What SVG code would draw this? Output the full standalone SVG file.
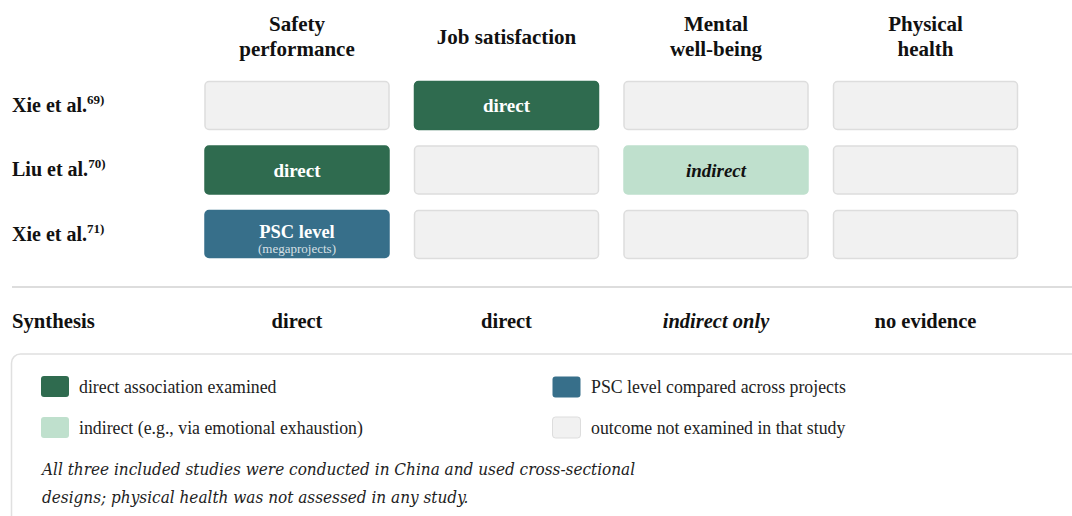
<svg xmlns="http://www.w3.org/2000/svg" width="1072" height="516" viewBox="0 0 1072 516">
<style>
text{font-family:"Liberation Serif","Times New Roman",serif;fill:#111}
.hd{font-size:21px;font-weight:bold;text-anchor:middle}
.rl{font-size:20px;font-weight:bold}
.sup{font-size:13px;font-weight:bold}
.cell{stroke-width:1.5}
.none{fill:#f1f1f1;stroke:#dddddd}
.dir{fill:#2f6b4f;stroke:#2f6b4f}
.ind{fill:#bfe0cd;stroke:#bfe0cd}
.psc{fill:#376f8a;stroke:#376f8a}
.ct{font-size:19px;font-weight:bold;text-anchor:middle;fill:#fff}
.ci{font-size:19px;font-weight:bold;font-style:italic;text-anchor:middle;fill:#111}
.cs{font-size:13px;text-anchor:middle;fill:#fff;fill-opacity:0.8}
.sy{font-size:20.5px;font-weight:bold;text-anchor:middle}
.lg{font-size:17.8px;fill:#222}
.note{font-family:"DejaVu Serif Condensed","DejaVu Serif",serif;font-stretch:condensed;font-style:italic;font-size:17px;fill:#222}
</style>
<g id="headers">
<text class="hd" x="297" y="31">Safety</text>
<text class="hd" x="297" y="56">performance</text>
<text class="hd" x="506.5" y="44">Job satisfaction</text>
<text class="hd" x="716" y="31">Mental</text>
<text class="hd" x="716" y="56">well-being</text>
<text class="hd" x="925.5" y="31">Physical</text>
<text class="hd" x="925.5" y="56">health</text>
</g>
<g id="row-labels">
<text class="rl" x="12" y="112">Xie et al.<tspan class="sup" dy="-8">69)</tspan></text>
<text class="rl" x="12" y="176">Liu et al.<tspan class="sup" dy="-8">70)</tspan></text>
<text class="rl" x="12" y="241">Xie et al.<tspan class="sup" dy="-8">71)</tspan></text>
</g>
<g id="row1">
<rect class="cell none" x="205" y="81.5" width="184" height="48" rx="4"/>
<rect class="cell dir" x="414.5" y="81.5" width="184" height="48" rx="4"/>
<text class="ct" x="506.5" y="112">direct</text>
<rect class="cell none" x="624" y="81.5" width="184" height="48" rx="4"/>
<rect class="cell none" x="833.5" y="81.5" width="184" height="48" rx="4"/>
</g>
<g id="row2">
<rect class="cell dir" x="205" y="146" width="184" height="48" rx="4"/>
<text class="ct" x="297" y="176.5">direct</text>
<rect class="cell none" x="414.5" y="146" width="184" height="48" rx="4"/>
<rect class="cell ind" x="624" y="146" width="184" height="48" rx="4"/>
<text class="ci" x="716" y="176.5">indirect</text>
<rect class="cell none" x="833.5" y="146" width="184" height="48" rx="4"/>
</g>
<g id="row3">
<rect class="cell psc" x="205" y="210.5" width="184" height="47" rx="4"/>
<text class="ct" x="297" y="237.5" style="font-size:18.5px">PSC level</text>
<text class="cs" x="297" y="253">(megaprojects)</text>
<rect class="cell none" x="414.5" y="210.5" width="184" height="48" rx="4"/>
<rect class="cell none" x="624" y="210.5" width="184" height="48" rx="4"/>
<rect class="cell none" x="833.5" y="210.5" width="184" height="48" rx="4"/>
</g>
<g id="connectors"></g>
<line x1="12" y1="287" x2="1072" y2="287" stroke="#dddddd" stroke-width="2"/>
<g id="synthesis">
<text class="rl" x="12" y="328" style="font-size:20.7px">Synthesis</text>
<text class="sy" x="297" y="328">direct</text>
<text class="sy" x="506.5" y="328">direct</text>
<text class="sy" x="716" y="328" font-style="italic">indirect only</text>
<text class="sy" x="925.5" y="328">no evidence</text>
</g>
<g id="legend">
<rect x="11.5" y="354" width="1080" height="200" rx="9" fill="#fff" stroke="#e0e0e0" stroke-width="1.5"/>
<rect x="41" y="376" width="28" height="21" rx="3" fill="#2f6b4f"/>
<text class="lg" x="79" y="393">direct association examined</text>
<rect x="41" y="417" width="28" height="21" rx="3" fill="#bfe0cd"/>
<text class="lg" x="79" y="433.5">indirect (e.g., via emotional exhaustion)</text>
<rect x="552.5" y="376.5" width="28" height="21" rx="3" fill="#376f8a"/>
<text class="lg" x="591" y="393">PSC level compared across projects</text>
<rect x="552.5" y="417" width="28" height="21" rx="3" fill="#f1f1f1" stroke="#dddddd"/>
<text class="lg" x="591" y="433.5">outcome not examined in that study</text>
<text class="note" x="42" y="475">All three included studies were conducted in China and used cross-sectional</text>
<text class="note" x="42" y="503">designs; physical health was not assessed in any study.</text>
</g>
</svg>
